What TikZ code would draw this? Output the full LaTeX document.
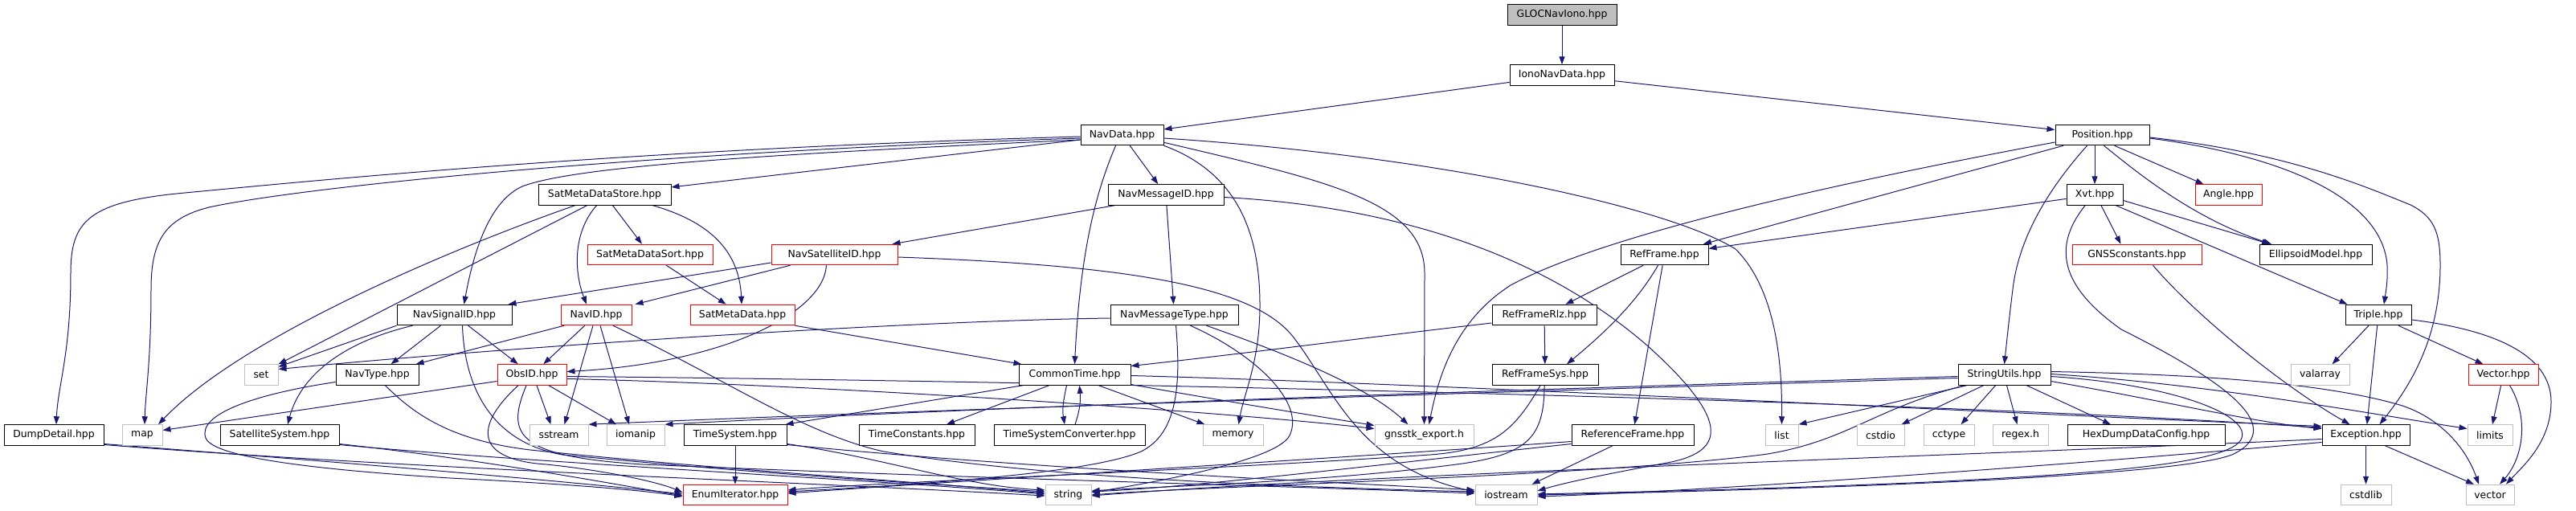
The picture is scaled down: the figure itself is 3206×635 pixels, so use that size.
\documentclass[tikz,border=0pt]{standalone}
\usepackage{fontspec}
\newfontfamily\dvs{DejaVu Sans}
\usetikzlibrary{arrows.meta}
\definecolor{edgeblue}{RGB}{25,25,112}
\definecolor{grey75}{RGB}{191,191,191}
\pgfdeclarelayer{back}
\pgfdeclarelayer{bg}
\pgfsetlayers{back,bg,main}
\tikzset{
 box/.style={draw=black, line width=1pt, minimum height=25.5pt, inner sep=0pt, fill=white, text=black, font={\dvs\fontsize{12.4pt}{14pt}\selectfont}},
 redbox/.style={box, draw=red},
 sysbox/.style={box, draw=grey75},
 e/.style={draw=edgeblue, line width=1pt, -{Triangle[length=10pt,width=7pt]}},
}
\begin{document}
\begin{tikzpicture}[x=1pt,y=-1pt]
\begin{pgfonlayer}{back}
\fill[white] (0,0) rectangle (3206,635);
\end{pgfonlayer}
\useasboundingbox (0,0) rectangle (3206,635);
% nodes
\node[box, fill=grey75, minimum width=136pt] (glo) at (1944,18.5) {GLOCNavIono.hpp};
\node[box, minimum width=130pt] (iono) at (1944,93.5) {IonoNavData.hpp};
\node[box, minimum width=103pt] (navdata) at (1396.5,168) {NavData.hpp};
\node[box, minimum width=117pt] (position) at (2616.5,168) {Position.hpp};
\node[box, minimum width=165pt] (smds) at (752.5,242.5) {SatMetaDataStore.hpp};
\node[box, minimum width=144pt] (navmsgid) at (1451,242.5) {NavMessageID.hpp};
\node[box, minimum width=70pt] (xvt) at (2607,242.5) {Xvt.hpp};
\node[redbox, minimum width=83pt] (angle) at (2773.5,242.5) {Angle.hpp};
\node[redbox, minimum width=156pt] (smdsort) at (809,317) {SatMetaDataSort.hpp};
\node[redbox, minimum width=157pt] (navsatid) at (1038.5,317) {NavSatelliteID.hpp};
\node[box, minimum width=109pt] (refframe) at (2071.5,317) {RefFrame.hpp};
\node[redbox, minimum width=161pt] (gnssconst) at (2659.5,317) {GNSSconstants.hpp};
\node[box, minimum width=140pt] (ellipsoid) at (2882,317) {EllipsoidModel.hpp};
\node[box, minimum width=143pt] (navsigid) at (565.5,392) {NavSignalID.hpp};
\node[redbox, minimum width=88pt] (navid) at (742,392) {NavID.hpp};
\node[redbox, minimum width=130pt] (smd) at (924,392) {SatMetaData.hpp};
\node[box, minimum width=159pt] (navmsgtype) at (1461.5,392) {NavMessageType.hpp};
\node[box, minimum width=130pt] (refrlz) at (1922,392) {RefFrameRlz.hpp};
\node[box, minimum width=82pt] (triple) at (2960,392) {Triple.hpp};
\node[sysbox, minimum width=42pt] (set) at (325,466.5) {set};
\node[box, minimum width=103pt] (navtype) at (469.5,466.5) {NavType.hpp};
\node[redbox, minimum width=86pt] (obsid) at (662,466.5) {ObsID.hpp};
\node[box, minimum width=139pt] (commontime) at (1337.5,466.5) {CommonTime.hpp};
\node[box, minimum width=132pt] (refsys) at (1923,466.5) {RefFrameSys.hpp};
\node[box, minimum width=115pt] (stringutils) at (2494.5,466.5) {StringUtils.hpp};
\node[sysbox, minimum width=73pt] (valarray) at (2887.5,466.5) {valarray};
\node[redbox, minimum width=87pt] (vectorhpp) at (3115.5,466.5) {Vector.hpp};
\node[box, minimum width=124pt] (dump) at (67,541.5) {DumpDetail.hpp};
\node[sysbox, minimum width=50pt] (map) at (177,541.5) {map};
\node[box, minimum width=148pt] (satsys) at (348,541.5) {SatelliteSystem.hpp};
\node[sysbox, minimum width=73pt] (sstream) at (695.5,541.5) {sstream};
\node[sysbox, minimum width=72pt] (iomanip) at (791,541.5) {iomanip};
\node[box, minimum width=128pt] (timesys) at (915,541.5) {TimeSystem.hpp};
\node[box, minimum width=144pt] (timeconst) at (1141,541.5) {TimeConstants.hpp};
\node[box, minimum width=188pt] (tsconv) at (1331,541.5) {TimeSystemConverter.hpp};
\node[sysbox, minimum width=75pt] (memory) at (1534.5,541.5) {memory};
\node[sysbox, minimum width=123pt] (gnsstk) at (1772.5,541.5) {gnsstk\_export.h};
\node[box, minimum width=152pt] (reference) at (2032,541.5) {ReferenceFrame.hpp};
\node[sysbox, minimum width=41pt] (list) at (2217.5,541.5) {list};
\node[sysbox, minimum width=59pt] (cstdio) at (2340.5,541.5) {cstdio};
\node[sysbox, minimum width=63pt] (cctype) at (2425.5,541.5) {cctype};
\node[sysbox, minimum width=69pt] (regex) at (2514.5,541.5) {regex.h};
\node[box, minimum width=196pt] (hexdump) at (2671,541.5) {HexDumpDataConfig.hpp};
\node[box, minimum width=109pt] (exception) at (2944.5,541.5) {Exception.hpp};
\node[sysbox, minimum width=56pt] (limits) at (3099,541.5) {limits};
\node[redbox, minimum width=130pt] (enumit) at (915,616) {EnumIterator.hpp};
\node[sysbox, minimum width=57pt] (string) at (1329.5,616) {string};
\node[sysbox, minimum width=77pt] (iostream) at (1874.5,616) {iostream};
\node[sysbox, minimum width=63pt] (cstdlib) at (2944.5,616) {cstdlib};
\node[sysbox, minimum width=60pt] (vector) at (3099,616) {vector};
% edges
\begin{pgfonlayer}{bg}
\draw[e] (glo) -- (iono);
\draw[e] (iono) -- (navdata);
\draw[e] (iono) -- (position);
% NavData
\draw[e] (navdata) -- (smds);
\draw[e] (navdata) -- (navmsgid);
\draw[e] ([yshift=-2pt]navdata.west) .. controls (800,185) and (420,222) .. (230,240) .. controls (110,251) and (88,275) .. (88,340) .. controls (88,440) and (72,480) .. ([xshift=3pt]dump.north);
\draw[e] ([yshift=-4pt]navdata.west) .. controls (800,190) and (380,232) .. (260,258) .. controls (205,272) and (188,300) .. (188,360) .. controls (188,450) and (181,490) .. ([xshift=3pt]map.north);
\draw[e] ([yshift=-6pt]navdata.west) .. controls (1000,190) and (720,205) .. (650,232) .. controls (610,250) and (590,310) .. ([xshift=12pt]navsigid.north);
\draw[e] ([xshift=-8pt]navdata.south) .. controls (1368,230) and (1345,300) .. (commontime.north);
\draw[e] (navdata.south east) .. controls (1540,215) and (1568,290) .. (1568,380) .. controls (1568,450) and (1548,490) .. ([xshift=7pt]memory.north);
\draw[e] ([yshift=4pt]navdata.south east) .. controls (1650,225) and (1773,250) .. (1773,340) -- (gnsstk.north);
\draw[e] ([yshift=-4pt]navdata.east) .. controls (1800,195) and (2080,260) .. (2160,310) .. controls (2210,360) and (2218,450) .. (list.north);
% Position
\draw[e] ([yshift=-9pt]position.west) .. controls (2300,225) and (2000,290) .. (1880,355) .. controls (1810,400) and (1790,470) .. ([xshift=6pt]gnsstk.north);
\draw[e] (position) -- (refframe);
\draw[e] ([xshift=-19pt]position.south) .. controls (2545,240) and (2512,300) .. (2505,360) .. controls (2500,400) and (2497,430) .. (stringutils.north);
\draw[e] (position.south -| xvt.north) -- (xvt.north);
\draw[e] ([xshift=2pt]position.south) .. controls (2660,215) and (2730,272) .. ([xshift=-55pt]ellipsoid.north);
\draw[e] ([xshift=15pt]position.south) -- ([xshift=-31pt]angle.north);
\draw[e] ([yshift=-4pt]position.east) .. controls (2850,195) and (2965,250) .. (2971,330) .. controls (2972,350) and (2969,365) .. ([xshift=7pt]triple.north);
\draw[e] ([yshift=-3pt]position.east) .. controls (2850,190) and (2950,235) .. (3000,255) .. controls (3030,270) and (3037,290) .. (3037,330) .. controls (3037,420) and (3000,480) .. ([xshift=17pt]exception.north);
% Xvt
\draw[e] (xvt) -- (refframe);
\draw[e] ([xshift=8pt]xvt.south) -- ([xshift=-20pt]gnssconst.north);
\draw[e] ([yshift=-7pt]xvt.east) -- ([xshift=-57pt]ellipsoid.north);
\draw[e] ([xshift=-9pt]xvt.south east) -- ([xshift=3pt]triple.north west);
\draw[e] ([xshift=-12pt]xvt.south) .. controls (2560,300) and (2555,350) .. (2640,410) .. controls (2760,470) and (2850,530) .. (2780,565) .. controls (2720,592) and (2300,608) .. (iostream.east);
\draw[e] ([xshift=20pt]gnssconst.south) .. controls (2730,390) and (2840,480) .. ([xshift=-20pt]exception.north);
% Triple, Vector, Exception
\draw[e] ([xshift=-12pt]triple.south) -- ([xshift=15pt]valarray.north);
\draw[e] (triple) -- (exception);
\draw[e] ([xshift=25pt]triple.south) -- ([xshift=-25pt]vectorhpp.north);
\draw[e] ([yshift=-6pt]triple.east) .. controls (3100,410) and (3175,440) .. (3175,500) .. controls (3175,550) and (3140,580) .. ([xshift=20pt]vector.north);
\draw[e] (vectorhpp) -- (limits);
\draw[e] ([xshift=8pt]vectorhpp.south) .. controls (3148,520) and (3140,570) .. ([xshift=12pt]vector.north);
\draw[e] (exception) -- (cstdlib);
\draw[e] ([xshift=24pt]exception.south) -- ([xshift=-20pt]vector.north);
\draw[e] ([yshift=-5pt]exception.west) .. controls (2500,565) and (1700,590) .. ([yshift=-1pt]string.east);
\draw[e] ([yshift=-9pt]exception.west) .. controls (2500,585) and (2100,612) .. ([yshift=-2pt]iostream.east);
% StringUtils
\draw[e] ([xshift=-47pt]stringutils.south) -- (list.north east);
\draw[e] ([xshift=-26pt]stringutils.south) -- ([xshift=-4pt]cstdio.north east);
\draw[e] ([xshift=-11pt]stringutils.south) -- ([xshift=15pt]cctype.north);
\draw[e] ([xshift=3pt]stringutils.south) -- ([xshift=-4pt]regex.north);
\draw[e] ([xshift=28pt]stringutils.south) -- ([xshift=-44pt]hexdump.north);
\draw[e] ([yshift=4pt]stringutils.east) .. controls (2750,466) and (2900,478) .. (2990,505) .. controls (3040,522) and (3070,560) .. ([xshift=-14pt]vector.north);
\draw[e] ([yshift=1pt]stringutils.east) .. controls (2750,478) and (2950,515) .. ([yshift=8pt]limits.west);
\draw[e] ([yshift=-2pt]stringutils.east) .. controls (2700,478) and (2800,515) .. (2790,545) .. controls (2780,578) and (2600,590) .. (2400,600) .. controls (2200,609) and (2000,613) .. ([yshift=1pt]iostream.east);
\draw[e] ([yshift=-8pt]stringutils.east) .. controls (2700,500) and (2800,525) .. ([yshift=8pt]exception.west);
\draw[e] ([xshift=-50pt]stringutils.south) .. controls (2330,510) and (2300,548) .. (2200,565) .. controls (2000,592) and (1500,605) .. (string.east);
\draw[e] ([yshift=-4pt]stringutils.west) .. controls (2000,484) and (1200,508) .. (sstream.north east);
\draw[e] ([yshift=-2pt]stringutils.west) .. controls (2000,482) and (1300,503) .. (iomanip.north east);
% CommonTime
\draw[e] ([xshift=5pt]commontime.south west) -- ([xshift=-2pt]timesys.north east);
\draw[e] ([xshift=-32pt]commontime.south) -- ([xshift=37pt]timeconst.north);
\draw[e] ([xshift=-10pt]commontime.south) .. controls (1323,500) and (1322,510) .. ([xshift=-6pt]tsconv.north);
\draw[e] ([xshift=7pt]tsconv.north) .. controls (1344,510) and (1345,500) .. ([xshift=6pt]commontime.south);
\draw[e] ([xshift=30pt]commontime.south) -- ([xshift=-35pt]memory.north);
\draw[e] ([yshift=-12pt]commontime.east) .. controls (1500,495) and (1620,515) .. ([yshift=12pt]gnsstk.west);
\draw[e] ([yshift=-1pt]commontime.east) .. controls (1800,478) and (2500,515) .. ([yshift=11pt]exception.west);
% ObsID
\draw[e] ([yshift=-8pt]obsid.west) -- ([yshift=6pt]map.east);
\draw[e] ([xshift=6pt]obsid.south) -- ([xshift=-10pt]sstream.north);
\draw[e] ([xshift=21pt]obsid.south) -- ([xshift=-24pt]iomanip.north);
\draw[e] ([xshift=-17pt]obsid.south) .. controls (590,530) and (590,572) .. (680,578) .. controls (750,585) and (820,600) .. ([yshift=3pt]enumit.west);
\draw[e] ([xshift=-7pt]obsid.south) .. controls (630,540) and (640,568) .. (800,578) .. controls (1200,595) and (1600,605) .. ([yshift=2pt]iostream.west);
\draw[e] ([yshift=-5pt]obsid.east) .. controls (1000,478) and (1500,510) .. ([yshift=8pt]gnsstk.west);
\draw[e] ([yshift=-2pt]obsid.east) .. controls (1300,474) and (2400,498) .. ([yshift=9pt]exception.west);
% NavID
\draw[e] ([xshift=-40pt]navid.south) -- ([xshift=-4pt]navtype.north east);
\draw[e] (navid) -- (obsid);
\draw[e] ([xshift=-4pt]navid.south) -- ([xshift=7pt]sstream.north);
\draw[e] ([xshift=5pt]navid.south) -- ([xshift=-8pt]iomanip.north);
\draw[e] ([xshift=21pt]navid.south) .. controls (900,470) and (1000,540) .. (1100,562) .. controls (1300,595) and (1600,606) .. ([yshift=4pt]iostream.west);
% NavSatelliteID
\draw[e] ([yshift=-10pt]navsatid.west) -- ([xshift=-5pt]navsigid.north east);
\draw[e] ([xshift=-55pt]navsatid.south) -- ([xshift=4pt]navid.north east);
\draw[e] ([xshift=-10pt]navsatid.south) .. controls (1025,390) and (900,452) .. ([yshift=4pt]obsid.east);
\draw[e] ([yshift=-3pt]navsatid.east) .. controls (1400,330) and (1560,355) .. (1610,420) .. controls (1660,485) and (1690,580) .. ([yshift=4pt]iostream.west);
% NavSignalID
\draw[e] (navsigid.south west) -- ([yshift=10pt]set.east);
\draw[e] ([xshift=-52pt]navsigid.south) .. controls (430,425) and (375,465) .. ([xshift=10pt]satsys.north);
\draw[e] (navsigid) -- (navtype);
\draw[e] (navsigid) -- (obsid);
\draw[e] ([xshift=10pt]navsigid.south) .. controls (578,480) and (610,550) .. (700,566) .. controls (950,590) and (1150,602) .. ([yshift=4pt]string.west);
% NavType
\draw[e] ([yshift=-9pt]navtype.west) .. controls (320,490) and (245,515) .. (256,545) .. controls (265,570) and (400,585) .. (560,595) .. controls (700,602) and (800,610) .. ([yshift=-2pt]enumit.west);
\draw[e] ([xshift=10pt]navtype.south) .. controls (515,515) and (560,548) .. (660,560) .. controls (900,585) and (1150,600) .. ([yshift=2pt]string.west);
% DumpDetail, SatelliteSystem
\draw[e] ([yshift=-11pt]dump.east) .. controls (420,575) and (700,598) .. ([yshift=1pt]enumit.west);
\draw[e] ([yshift=-12pt]dump.east) .. controls (500,583) and (1000,600) .. ([yshift=-1pt]string.west);
\draw[e] ([yshift=-11pt]satsys.east) .. controls (600,572) and (750,600) .. ([yshift=-1pt]enumit.west);
\draw[e] ([yshift=-12pt]satsys.east) .. controls (650,575) and (1100,598) .. ([yshift=1pt]string.west);
% TimeSystem
\draw[e] (timesys) -- (enumit);
\draw[e] ([yshift=-11pt]timesys.east) .. controls (1100,570) and (1200,605) .. ([yshift=6pt]string.west);
\draw[e] ([yshift=-12pt]timesys.east) .. controls (1300,585) and (1700,602) .. ([yshift=6pt]iostream.west);
% NavMessageID, NavMessageType
\draw[e] ([xshift=-64pt]navmsgid.south) -- ([xshift=72pt]navsatid.north);
\draw[e] (navmsgid) -- (navmsgtype);
\draw[e] ([yshift=-3pt]navmsgid.east) .. controls (1700,255) and (1900,300) .. (2050,430) .. controls (2150,520) and (2150,560) .. (2080,575) .. controls (2000,590) and (1950,600) .. ([yshift=5pt]iostream.east);
\draw[e] ([yshift=-4pt]navmsgtype.west) .. controls (1100,400) and (600,435) .. ([yshift=7pt]set.east);
\draw[e] ([xshift=2pt]navmsgtype.south) .. controls (1470,480) and (1465,540) .. (1420,562) .. controls (1350,592) and (1100,605) .. ([yshift=4pt]enumit.east);
\draw[e] ([xshift=20pt]navmsgtype.south) .. controls (1560,440) and (1625,500) .. (1605,542) .. controls (1590,572) and (1450,598) .. ([yshift=3pt]string.east);
\draw[e] ([xshift=40pt]navmsgtype.south) .. controls (1600,440) and (1700,480) .. ([xshift=-20pt]gnsstk.north);
% RefFrame family
\draw[e] (refframe) -- (refrlz);
\draw[e] ([xshift=-8pt]refframe.south) .. controls (2035,380) and (1990,420) .. ([xshift=27pt]refsys.north);
\draw[e] (refframe) -- (reference);
\draw[e] (refrlz) -- (refsys);
\draw[e] ([yshift=-10pt]refrlz.west) .. controls (1700,420) and (1550,440) .. ([yshift=11pt]commontime.east);
\draw[e] ([xshift=-6pt]refsys.south) .. controls (1885,535) and (1860,560) .. (1780,566) .. controls (1500,585) and (1100,600) .. ([yshift=6pt]enumit.east);
\draw[e] ([xshift=-1pt]refsys.south) .. controls (1922,545) and (1900,565) .. (1820,577) .. controls (1650,600) and (1450,605) .. ([yshift=5pt]string.east);
\draw[e] ([xshift=-25pt]reference.south) -- ([xshift=32pt]iostream.north);
\draw[e] ([yshift=-8pt]reference.west) .. controls (1700,568) and (1200,598) .. ([yshift=2pt]enumit.east);
\draw[e] ([yshift=-11pt]reference.west) .. controls (1700,580) and (1500,605) .. ([yshift=4pt]string.east);
% SatMetaDataStore etc.
\draw[e] ([xshift=-37pt]smds.south) .. controls (560,310) and (300,420) .. ([xshift=20pt]map.north);
\draw[e] ([xshift=-22pt]smds.south) -- (set.north east);
\draw[e] ([xshift=-10pt]smds.south) .. controls (712,290) and (715,340) .. ([xshift=-12pt]navid.north);
\draw[e] (smds) -- (smdsort);
\draw[e] ([xshift=60pt]smds.south) .. controls (880,275) and (920,310) .. ([xshift=-1pt]smd.north);
\draw[e] (smdsort) -- (smd);
\draw[e] (smd.south east) -- ([xshift=4pt]commontime.north west);
\end{pgfonlayer}
\end{tikzpicture}
\end{document}
